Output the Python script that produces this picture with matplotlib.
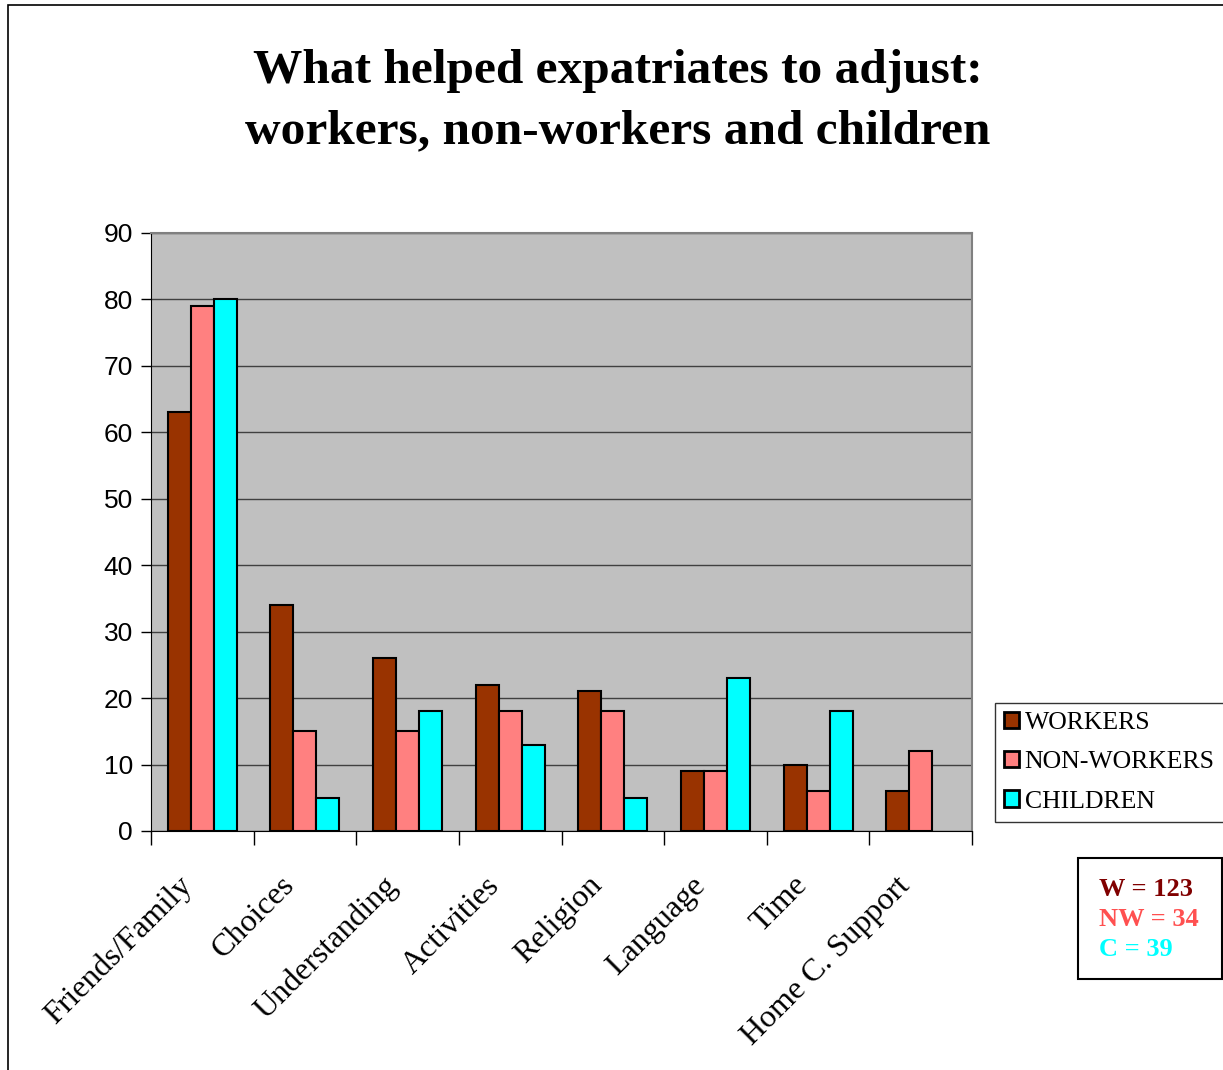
import matplotlib
matplotlib.use("Agg")
import matplotlib.pyplot as plt
import numpy as np
from matplotlib.patches import Rectangle
from matplotlib.transforms import ScaledTranslation

categories = ["Friends/Family", "Choices", "Understanding", "Activities",
              "Religion", "Language", "Time", "Home C. Support"]
workers = [63, 34, 26, 22, 21, 9, 10, 6]
non_workers = [79, 15, 15, 18, 18, 9, 6, 12]
children = [80, 5, 18, 13, 5, 23, 18, 0]
series_names = ["WORKERS", "NON-WORKERS", "CHILDREN"]
series_colors = ["#993300", "#FF8080", "#00FFFF"]
yticks = [0, 10, 20, 30, 40, 50, 60, 70, 80, 90]

W, H = 1223, 1070
fig = plt.figure(figsize=(W / 100, H / 100), dpi=100)
serif = ["Liberation Serif", "DejaVu Serif"]
sans = ["Liberation Sans", "DejaVu Sans"]

# outer frame
fig.patches.append(Rectangle((8 / W, -0.01), 1.05, (H - 5) / H + 0.01,
                             transform=fig.transFigure, fill=False,
                             edgecolor="black", linewidth=1.2))

fig.text(618 / W, 1 - 71 / H, "What helped expatriates to adjust:",
         ha="center", va="center", fontsize=35.6, fontweight="bold", family=serif)
fig.text(618 / W, 1 - 131 / H, "workers, non-workers and children",
         ha="center", va="center", fontsize=35.6, fontweight="bold", family=serif)

ax = fig.add_axes([151 / W, 1 - 831 / H, (972 - 151) / W, (831 - 233) / H])
ax.set_facecolor("#C0C0C0")
x = np.arange(len(categories)) + 0.5
bw = 0.224
for i, (vals, name, col) in enumerate(zip([workers, non_workers, children],
                                          series_names, series_colors)):
    xs = x + (i - 1) * bw
    v = np.array(vals, dtype=float)
    mask = v > 0
    ax.bar(xs[mask], v[mask], width=bw, color=col, edgecolor="black",
           linewidth=1.5, label=name, zorder=3)

ax.set_xlim(0, len(categories))
ax.set_ylim(0, 90)
ax.set_yticks(yticks)
ax.set_yticklabels([str(t) for t in yticks], fontsize=19, family=sans)
ax.yaxis.grid(True, color="#404040", linewidth=1, zorder=1)
ax.set_axisbelow(True)
ax.set_xticks(np.arange(len(categories) + 1))
ax.set_xticklabels([])
ax.tick_params(axis="x", which="major", length=10, width=1, direction="out")
ax.tick_params(axis="y", length=7, width=1, direction="out", pad=6)
for s in ["left", "bottom"]:
    ax.spines[s].set_color("black")
for s in ["top", "right"]:
    ax.spines[s].set_color("#808080")
    ax.spines[s].set_linewidth(1.5)

# category labels, rotated 45 degrees
off = ScaledTranslation(-25 / 100, -40 / 100, fig.dpi_scale_trans)
for xi, lab in zip(x, categories):
    ax.text(xi, 0, lab, transform=ax.get_xaxis_transform() + off,
            rotation=45, ha="right", va="top", rotation_mode="anchor",
            fontsize=23, family=serif, clip_on=False)

leg = fig.legend(loc="upper left", bbox_to_anchor=(995 / W, 1 - 703 / H),
                 bbox_transform=fig.transFigure,
                 prop={"family": serif, "size": 18.5}, frameon=True,
                 fancybox=False, edgecolor="black", handlelength=0.6,
                 handleheight=0.6, handletextpad=0.2, borderpad=0.35,
                 labelspacing=0.66, borderaxespad=0)
leg.get_frame().set_linewidth(1)
for h in leg.legend_handles:
    h.set_linewidth(2)

fig.patches.append(Rectangle((1078 / W, 1 - 979 / H), (1222 - 1078) / W,
                             (979 - 858) / H, transform=fig.transFigure,
                             fill=False, edgecolor="black", linewidth=1.5))
ntexts = [("W = 123", "#800000", 889), ("NW = 34", "#FF5050", 919),
          ("C = 39", "#00FFFF", 950)]
for t, c, yy in ntexts:
    fig.text(1099 / W, 1 - yy / H, t, color=c, fontsize=19, fontweight="bold",
             family=serif, ha="left", va="center")

fig.savefig("out.png", dpi=100, facecolor="white")
